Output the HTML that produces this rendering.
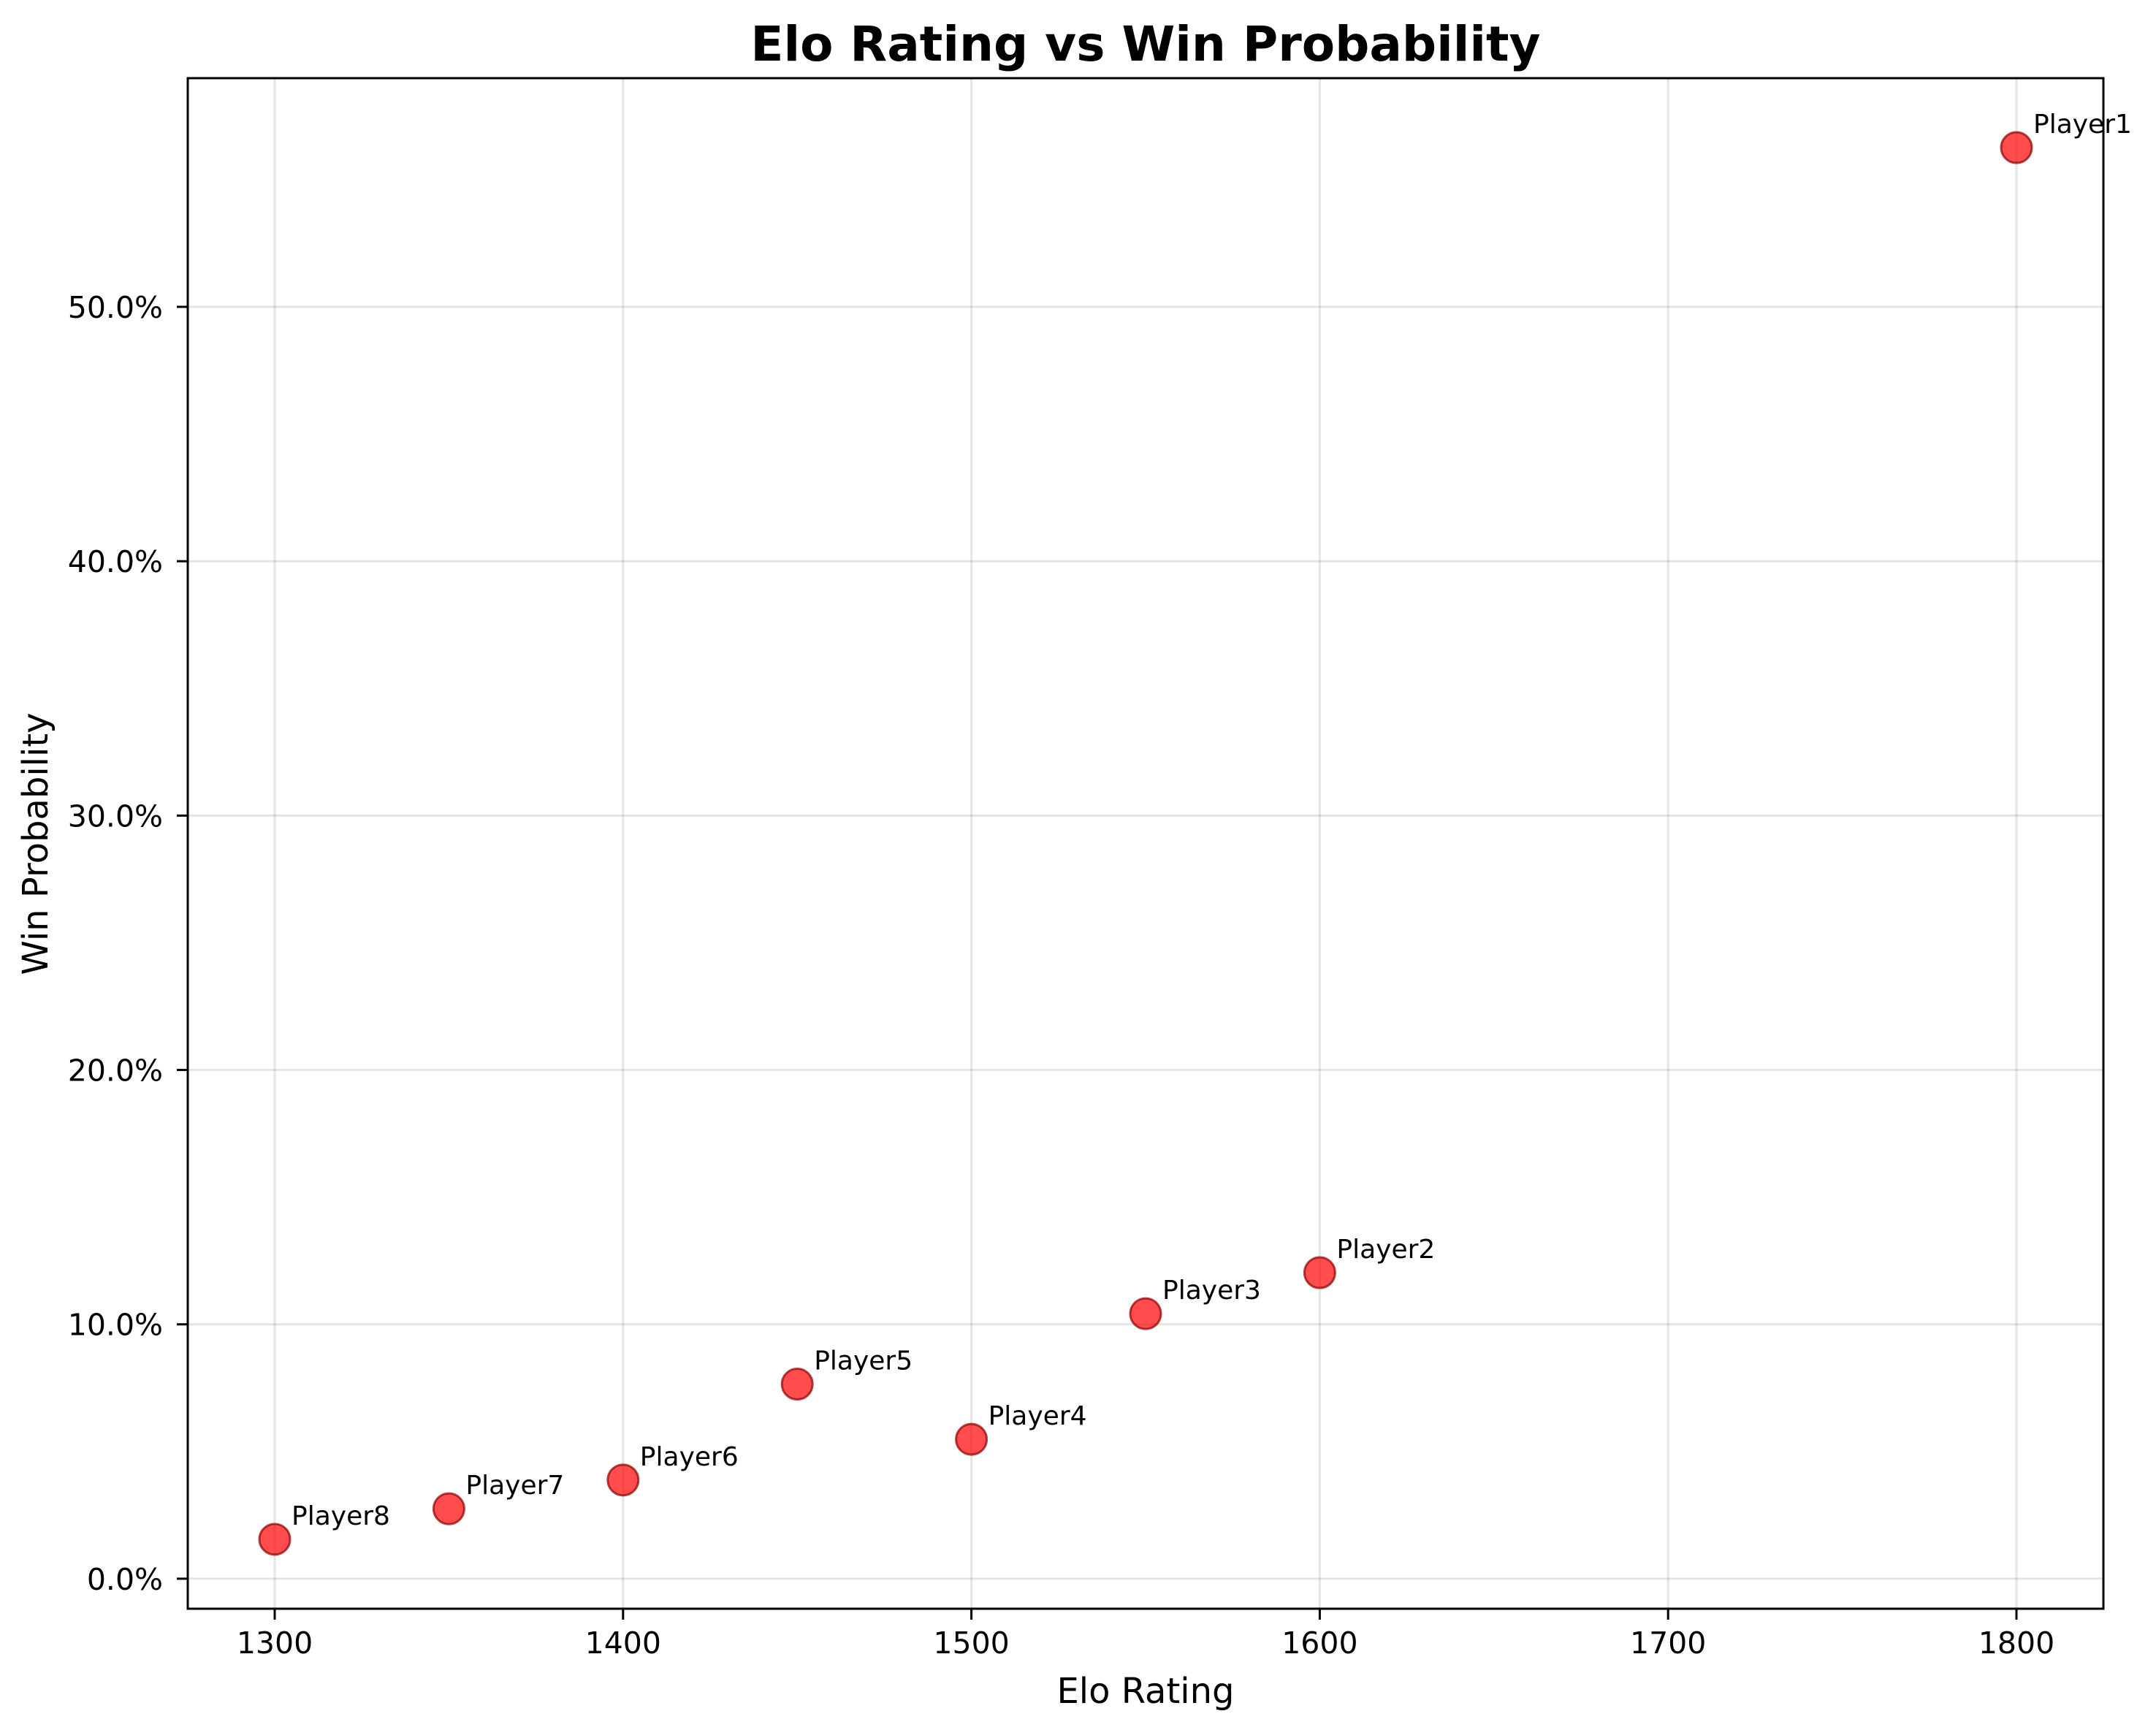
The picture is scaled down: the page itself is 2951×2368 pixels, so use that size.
<!DOCTYPE html>
<html><head><meta charset="utf-8"><style>
html,body{margin:0;padding:0;background:#fff;}
svg{display:block;font-family:"DejaVu Sans","Liberation Sans",sans-serif;}
</style></head><body>
<svg id="chart" width="2951" height="2368" viewBox="0 0 2951 2368">
<rect width="2951" height="2368" fill="#fff"/>
<g id="grid"></g><g id="ticks"></g><g id="marks"></g>
<rect x="257" y="107" width="2622" height="2095" fill="none" stroke="#000" stroke-width="3"/>
<text x="1568" y="83" text-anchor="middle" font-size="66" font-weight="bold">Elo Rating vs Win Probability</text>
<text x="1568" y="2318" text-anchor="middle" dominant-baseline="middle" font-size="48">Elo Rating</text>
<text x="52" y="1155" text-anchor="middle" dominant-baseline="middle" font-size="48" transform="rotate(-90 52 1155)">Win Probability</text>
</svg>
<script>
const players = ["Player1","Player2","Player3","Player4","Player5","Player6","Player7","Player8"];
const elo = [1800,1600,1550,1500,1450,1400,1350,1300];
const winPct = [56.26,12.03,10.42,5.48,7.65,3.88,2.75,1.55];
const xTicks = [1300,1400,1500,1600,1700,1800];
const yTicks = [0,10,20,30,40,50];
const NS="http://www.w3.org/2000/svg";
const L=257,R=2879,T=107,B=2202;
const xMin=1275.04,xMax=1824.96,yMin=-1.18,yMax=58.99;
function xs(v){return L+(v-xMin)/(xMax-xMin)*(R-L);}
function ys(v){return B-(v-yMin)/(yMax-yMin)*(B-T);}
function mk(tag,attrs,parent){const e=document.createElementNS(NS,tag);for(const k in attrs)e.setAttribute(k,attrs[k]);document.getElementById(parent).appendChild(e);return e;}
xTicks.forEach(t=>{
  const x=xs(t);
  const g=mk('line',{x1:x,x2:x,y1:T,y2:B,stroke:'#000','stroke-opacity':0.1,'stroke-width':3},'grid');
  
  
  const tk=mk('line',{x1:x,x2:x,y1:B,y2:B+15,stroke:'#000','stroke-width':3},'ticks');
  
  
  const lb=mk('text',{x:x,y:2263,'text-anchor':'middle','font-size':41},'ticks');
  lb.textContent=t;
  
  
});
yTicks.forEach(t=>{
  const y=ys(t);
  const g=mk('line',{x1:L,x2:R,y1:y,y2:y,stroke:'#000','stroke-opacity':0.1,'stroke-width':3},'grid');
  
  
  const tk=mk('line',{x1:L-15,x2:L,y1:y,y2:y,stroke:'#000','stroke-width':3},'ticks');
  
  
  const lb=mk('text',{x:223,y:y+15,'text-anchor':'end','font-size':41},'ticks');
  lb.textContent=t.toFixed(1)+'%';
  
  
});
players.forEach((p,i)=>{
  const x=xs(elo[i]),y=ys(winPct[i]);
  const c=mk('circle',{cx:x,cy:y,r:21,fill:'#ff0000','fill-opacity':0.7,stroke:'#8b0000','stroke-opacity':0.7,'stroke-width':3},'marks');
  
  
  const t=mk('text',{x:x+23,y:y-20,'font-size':36},'marks');
  t.textContent=p;
  
  
});
</script>
</body></html>
